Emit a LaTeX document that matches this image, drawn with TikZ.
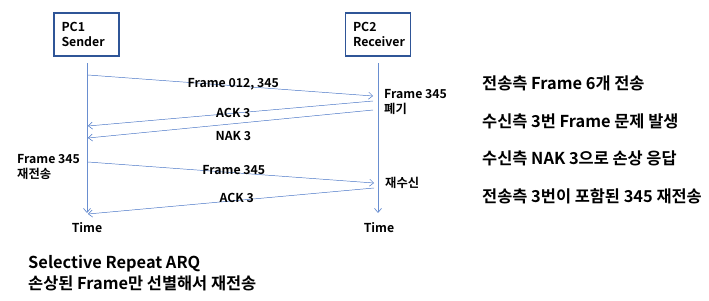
\documentclass[tikz,border=0pt]{standalone}
\usepackage{fontspec}
\setmainfont{Noto Sans CJK KR}[BoldFont=* Bold]
\usetikzlibrary{arrows.meta}
\definecolor{lineblue}{HTML}{4472C4}
\definecolor{boxblue}{HTML}{2F5597}

\begin{document}
\begin{tikzpicture}[x=0.03cm,y=-0.03cm,font=\bfseries\fontsize{10.5}{12.5}\selectfont,
  msg/.style={lineblue,-{Straight Barb[length=3.5pt,width=6pt]}},
  lifeline/.style={lineblue!80,line width=0.6pt,-{Straight Barb[length=3.5pt,width=6pt]}},
  lbl/.style={text=black},
  pcbox/.style={draw=boxblue,line width=1pt,minimum width=65*0.03cm,minimum height=43*0.03cm,align=left,text width=50*0.03cm,inner sep=0pt}]
\useasboundingbox (0,0) rectangle (709,300);
\node[pcbox] (pc1) at (86.5,34.5) {PC1\\Sender};
\node[pcbox] (pc2) at (378,34.5) {PC2\\Receiver};
\coordinate (top1) at (87,63);
\coordinate (top2) at (378,63);
\coordinate (end1) at (87,213);
\coordinate (end2) at (378,213);
\draw[lifeline] (top1) -- (end1);
\draw[lifeline] (top2) -- (end2);
\node (time1) at (87,228) {Time};
\node (time2) at (379,228) {Time};
\coordinate (s1) at (88,75);
\coordinate (r1) at (373,96);
\coordinate (r2) at (373,101);
\coordinate (s2) at (88,126);
\coordinate (r3) at (373,110);
\coordinate (s3) at (88,138);
\coordinate (s4) at (88,162);
\coordinate (r4) at (374,183);
\coordinate (r5) at (374,188);
\coordinate (s5) at (88,214);
\draw[msg] (s1) -- node[lbl,pos=0.51,yshift=0.04cm] {Frame 012, 345} (r1);
\draw[msg] (r2) -- node[lbl,pos=0.49] {ACK 3} (s2);
\draw[msg] (r3) -- node[lbl,pos=0.49,yshift=-0.36cm] {NAK 3} (s3);
\draw[msg] (s4) -- node[lbl,pos=0.51,yshift=0.07cm] {Frame 345} (r4);
\draw[msg] (r5) -- node[lbl,pos=0.48,yshift=0.09cm] {ACK 3} (s5);
\node[anchor=west,align=left,inner sep=0pt] (drop) at (384,102) {Frame 345\\폐기};
\node[anchor=west,align=left,inner sep=0pt] (resend) at (17,167) {Frame 345\\ 재전송};
\node[anchor=west,inner sep=0pt] (rerecv) at (385,183) {재수신};
\node[anchor=west,align=left,inner sep=0pt,font=\bfseries\fontsize{14}{32}\selectfont] (notes) at (482,140)
  {전송측 Frame 6개 전송\\수신측 3번 Frame 문제 발생\\수신측 NAK 3으로 손상 응답\\전송측 3번이 포함된 345 재전송};
\node[anchor=west,align=left,inner sep=0pt,font=\bfseries\fontsize{14}{18}\selectfont] (title) at (28,273)
  {Selective Repeat ARQ\\손상된 Frame만 선별해서 재전송};
\end{tikzpicture}
\end{document}
